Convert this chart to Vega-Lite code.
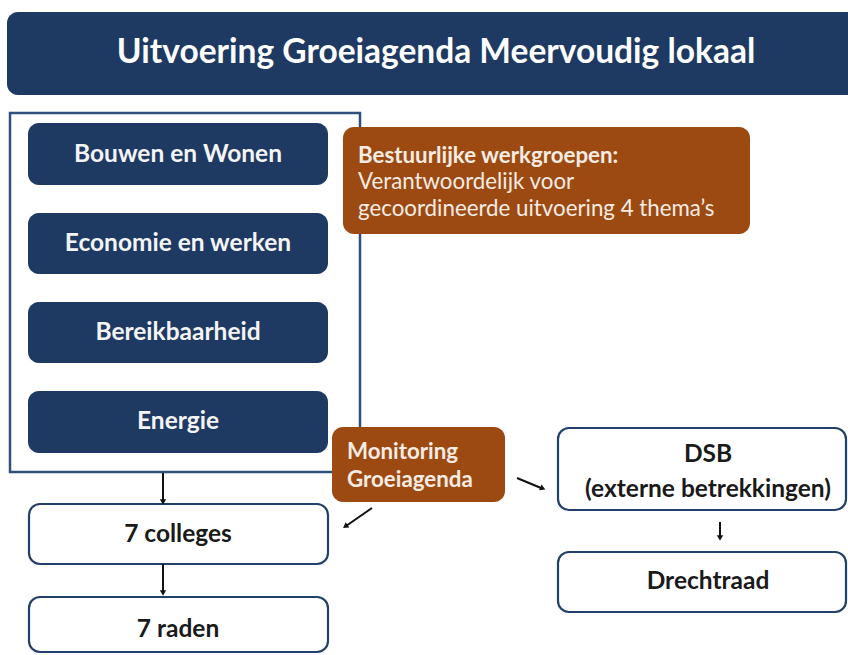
{
  "$schema": "https://vega.github.io/schema/vega-lite/v6.json",
  "width": 848,
  "height": 655,
  "autosize": {"type": "fit", "contains": "padding"},
  "padding": 0,
  "background": "white",
  "config": {"view": {"stroke": null}},
  "datasets": {
    "boxes": [
      {"id": "frame", "kind": "frame", "x": 10, "x2": 360, "y": 113, "y2": 472},
      {"id": "title", "kind": "navy", "x": 7, "x2": 870, "y": 12, "y2": 95},
      {"id": "bouwen", "kind": "navy", "x": 28, "x2": 328, "y": 123, "y2": 185},
      {"id": "economie", "kind": "navy", "x": 28, "x2": 328, "y": 213, "y2": 274},
      {"id": "bereik", "kind": "navy", "x": 28, "x2": 328, "y": 302, "y2": 363},
      {"id": "energie", "kind": "navy", "x": 28, "x2": 328, "y": 391, "y2": 453},
      {"id": "werkgroepen", "kind": "orange", "x": 343, "x2": 750, "y": 127, "y2": 234},
      {"id": "monitoring", "kind": "orange", "x": 332, "x2": 505, "y": 427, "y2": 502},
      {"id": "colleges", "kind": "white", "x": 29, "x2": 328, "y": 504, "y2": 564},
      {"id": "raden", "kind": "white", "x": 29, "x2": 328, "y": 597, "y2": 652},
      {"id": "dsb", "kind": "white", "x": 558, "x2": 846, "y": 428, "y2": 510},
      {"id": "drechtraad", "kind": "white", "x": 558, "x2": 846, "y": 552, "y2": 612}
    ],
    "labels": [
      {"text": "Uitvoering Groeiagenda Meervoudig lokaal", "style": "title", "x": 436, "y": 53},
      {"text": "Bouwen en Wonen", "style": "theme", "x": 178, "y": 155},
      {"text": "Economie en werken", "style": "theme", "x": 178, "y": 244},
      {"text": "Bereikbaarheid", "style": "theme", "x": 178, "y": 333},
      {"text": "Energie", "style": "theme", "x": 178, "y": 422},
      {"text": "Bestuurlijke werkgroepen:", "style": "notebold", "x": 358, "y": 156},
      {"text": "Verantwoordelijk voor", "style": "note", "x": 358, "y": 182},
      {"text": "gecoordineerde uitvoering 4 thema’s", "style": "note", "x": 358, "y": 209},
      {"text": "Monitoring", "style": "notebold", "x": 347, "y": 452},
      {"text": "Groeiagenda", "style": "notebold", "x": 347, "y": 480},
      {"text": "7 colleges", "style": "box", "x": 178, "y": 535},
      {"text": "7 raden", "style": "box", "x": 178, "y": 630},
      {"text": "DSB", "style": "box", "x": 708, "y": 455},
      {"text": "(externe betrekkingen)", "style": "box", "x": 708, "y": 490},
      {"text": "Drechtraad", "style": "box", "x": 708, "y": 582}
    ],
    "arrows": [
      {"x": 163, "y": 473, "x2": 163, "y2": 500, "hx": 163, "hy": 501, "angle": 180},
      {"x": 163, "y": 564, "x2": 163, "y2": 591, "hx": 163, "hy": 592, "angle": 180},
      {"x": 372, "y": 508, "x2": 346, "y2": 526, "hx": 346, "hy": 526, "angle": 235},
      {"x": 517, "y": 478, "x2": 541, "y2": 488, "hx": 542, "hy": 488, "angle": 113},
      {"x": 720, "y": 522, "x2": 720, "y2": 536, "hx": 720, "hy": 537, "angle": 180}
    ]
  },
  "layer": [
    {
      "data": {"name": "boxes"},
      "transform": [{"filter": "datum.kind == 'frame'"}],
      "mark": {"type": "rect", "fill": "white", "stroke": "#2f4f7c", "strokeWidth": 2.5},
      "encoding": {
        "x": {"field": "x", "type": "quantitative", "scale": {"domain": [0, 848], "nice": false, "zero": false}, "axis": null},
        "x2": {"field": "x2"},
        "y": {"field": "y", "type": "quantitative", "scale": {"domain": [0, 655], "nice": false, "zero": false, "reverse": true}, "axis": null},
        "y2": {"field": "y2"}
      }
    },
    {
      "data": {"name": "boxes"},
      "transform": [{"filter": "datum.kind == 'navy' || datum.kind == 'orange'"}],
      "mark": {"type": "rect", "cornerRadius": 11, "clip": true},
      "encoding": {
        "x": {"field": "x", "type": "quantitative", "scale": {"domain": [0, 848], "nice": false, "zero": false}, "axis": null},
        "x2": {"field": "x2"},
        "y": {"field": "y", "type": "quantitative", "scale": {"domain": [0, 655], "nice": false, "zero": false, "reverse": true}, "axis": null},
        "y2": {"field": "y2"},
        "fill": {"field": "kind", "type": "nominal", "scale": {"domain": ["navy", "orange"], "range": ["#1e3a62", "#9c4a11"]}, "legend": null}
      }
    },
    {
      "data": {"name": "boxes"},
      "transform": [{"filter": "datum.kind == 'white'"}],
      "mark": {"type": "rect", "cornerRadius": 11, "fill": "white", "stroke": "#22406a", "strokeWidth": 2.2},
      "encoding": {
        "x": {"field": "x", "type": "quantitative", "scale": {"domain": [0, 848], "nice": false, "zero": false}, "axis": null},
        "x2": {"field": "x2"},
        "y": {"field": "y", "type": "quantitative", "scale": {"domain": [0, 655], "nice": false, "zero": false, "reverse": true}, "axis": null},
        "y2": {"field": "y2"}
      }
    },
    {
      "data": {"name": "arrows"},
      "mark": {"type": "rule", "color": "#111111", "strokeWidth": 2},
      "encoding": {
        "x": {"field": "x", "type": "quantitative", "scale": {"domain": [0, 848], "nice": false, "zero": false}, "axis": null},
        "x2": {"field": "x2"},
        "y": {"field": "y", "type": "quantitative", "scale": {"domain": [0, 655], "nice": false, "zero": false, "reverse": true}, "axis": null},
        "y2": {"field": "y2"}
      }
    },
    {
      "data": {"name": "arrows"},
      "mark": {"type": "point", "shape": "triangle", "filled": true, "color": "#111111", "size": 40, "opacity": 1},
      "encoding": {
        "x": {"field": "hx", "type": "quantitative", "scale": {"domain": [0, 848], "nice": false, "zero": false}, "axis": null},
        "y": {"field": "hy", "type": "quantitative", "scale": {"domain": [0, 655], "nice": false, "zero": false, "reverse": true}, "axis": null},
        "angle": {"field": "angle", "type": "quantitative", "scale": null}
      }
    },
    {
      "data": {"name": "labels"},
      "transform": [{"filter": "datum.style == 'title'"}],
      "mark": {"type": "text", "font": "Lato", "fontWeight": "bold", "fontSize": 33.5, "color": "white", "align": "center", "baseline": "middle"},
      "encoding": {
        "x": {"field": "x", "type": "quantitative", "scale": {"domain": [0, 848], "nice": false, "zero": false}, "axis": null},
        "y": {"field": "y", "type": "quantitative", "scale": {"domain": [0, 655], "nice": false, "zero": false, "reverse": true}, "axis": null},
        "text": {"field": "text"}
      }
    },
    {
      "data": {"name": "labels"},
      "transform": [{"filter": "datum.style == 'theme'"}],
      "mark": {"type": "text", "font": "Lato", "fontWeight": "bold", "fontSize": 24.5, "color": "#f4f4f4", "align": "center", "baseline": "middle"},
      "encoding": {
        "x": {"field": "x", "type": "quantitative", "scale": {"domain": [0, 848], "nice": false, "zero": false}, "axis": null},
        "y": {"field": "y", "type": "quantitative", "scale": {"domain": [0, 655], "nice": false, "zero": false, "reverse": true}, "axis": null},
        "text": {"field": "text"}
      }
    },
    {
      "data": {"name": "labels"},
      "transform": [{"filter": "datum.style == 'notebold'"}],
      "mark": {"type": "text", "font": "Lato", "fontWeight": "bold", "fontSize": 22.3, "color": "#f6ece4", "align": "left", "baseline": "middle"},
      "encoding": {
        "x": {"field": "x", "type": "quantitative", "scale": {"domain": [0, 848], "nice": false, "zero": false}, "axis": null},
        "y": {"field": "y", "type": "quantitative", "scale": {"domain": [0, 655], "nice": false, "zero": false, "reverse": true}, "axis": null},
        "text": {"field": "text"}
      }
    },
    {
      "data": {"name": "labels"},
      "transform": [{"filter": "datum.style == 'note'"}],
      "mark": {"type": "text", "font": "Lato", "fontWeight": "normal", "fontSize": 22.3, "color": "#f6ece4", "align": "left", "baseline": "middle"},
      "encoding": {
        "x": {"field": "x", "type": "quantitative", "scale": {"domain": [0, 848], "nice": false, "zero": false}, "axis": null},
        "y": {"field": "y", "type": "quantitative", "scale": {"domain": [0, 655], "nice": false, "zero": false, "reverse": true}, "axis": null},
        "text": {"field": "text"}
      }
    },
    {
      "data": {"name": "labels"},
      "transform": [{"filter": "datum.style == 'box'"}],
      "mark": {"type": "text", "font": "Lato", "fontWeight": "bold", "fontSize": 24.5, "color": "#1a1a1a", "align": "center", "baseline": "middle"},
      "encoding": {
        "x": {"field": "x", "type": "quantitative", "scale": {"domain": [0, 848], "nice": false, "zero": false}, "axis": null},
        "y": {"field": "y", "type": "quantitative", "scale": {"domain": [0, 655], "nice": false, "zero": false, "reverse": true}, "axis": null},
        "text": {"field": "text"}
      }
    }
  ]
}
